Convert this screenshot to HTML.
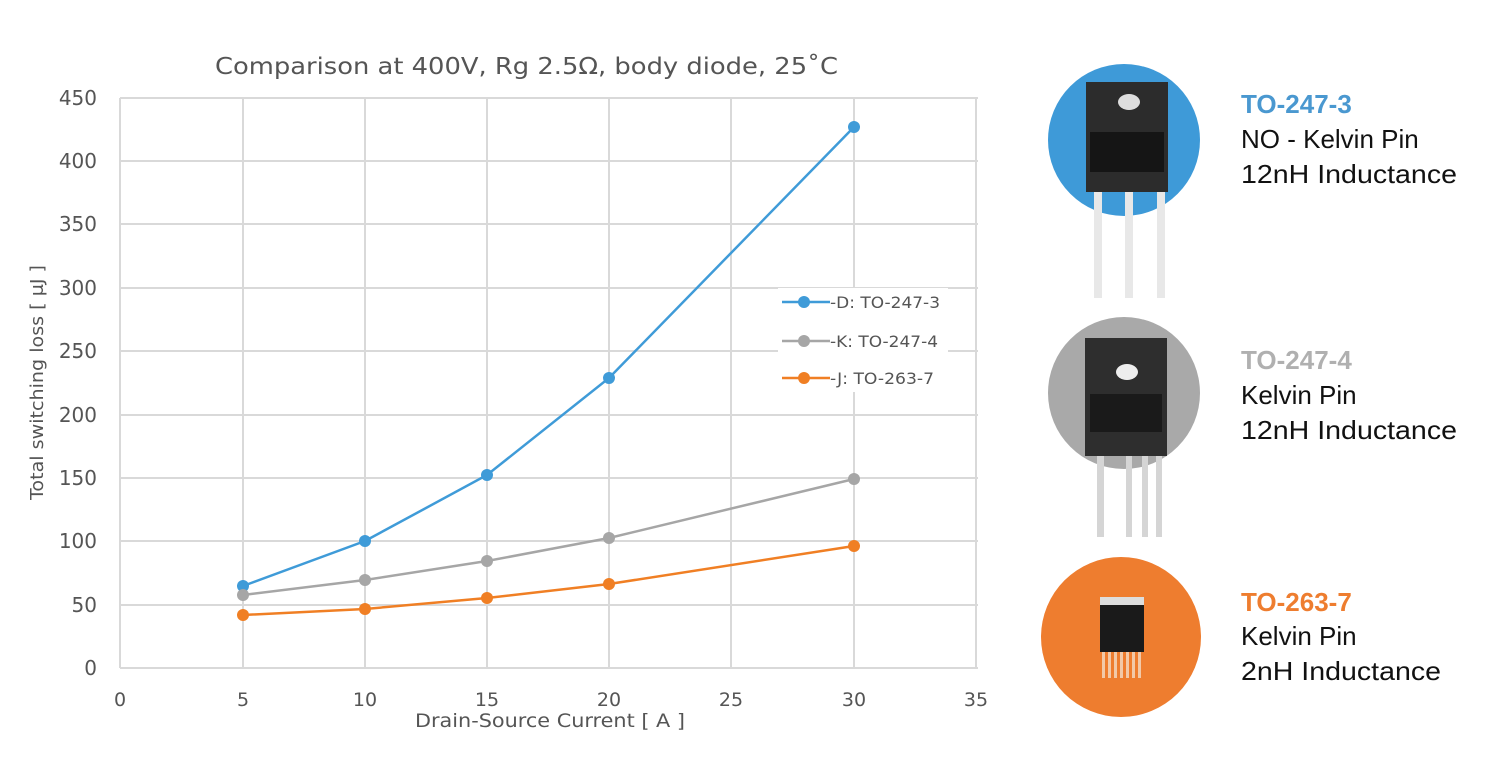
<!DOCTYPE html>
<html><head><meta charset="utf-8"><style>
html,body{margin:0;padding:0;background:#fff;}
svg{display:block;}
</style></head><body>
<svg width="1487" height="764" viewBox="0 0 1487 764" xmlns="http://www.w3.org/2000/svg" font-family="'DejaVu Sans','Liberation Sans',sans-serif">
<rect width="1487" height="764" fill="#fff"/>
<text x="215" y="74" font-size="23" fill="#555" textLength="623" lengthAdjust="spacingAndGlyphs">Comparison at 400V, Rg 2.5Ω, body diode, 25˚C</text>
<g stroke="#d9d9d9" stroke-width="2">
<line x1="120" y1="98" x2="978" y2="98"/><line x1="120" y1="161" x2="978" y2="161"/>
<line x1="120" y1="224" x2="978" y2="224"/><line x1="120" y1="288" x2="978" y2="288"/>
<line x1="120" y1="351" x2="978" y2="351"/><line x1="120" y1="415" x2="978" y2="415"/>
<line x1="120" y1="478" x2="978" y2="478"/><line x1="120" y1="541" x2="978" y2="541"/>
<line x1="120" y1="605" x2="978" y2="605"/><line x1="120" y1="668" x2="978" y2="668"/>
<line x1="120" y1="98" x2="120" y2="668"/><line x1="243" y1="98" x2="243" y2="668"/>
<line x1="365" y1="98" x2="365" y2="668"/><line x1="487" y1="98" x2="487" y2="668"/>
<line x1="609" y1="98" x2="609" y2="668"/><line x1="731" y1="98" x2="731" y2="668"/>
<line x1="854" y1="98" x2="854" y2="668"/><line x1="976" y1="98" x2="976" y2="668"/>
</g>
<g font-size="20" fill="#555" text-anchor="end">
<text x="97" y="105">450</text><text x="97" y="168">400</text><text x="97" y="231">350</text>
<text x="97" y="295">300</text><text x="97" y="358">250</text><text x="97" y="422">200</text>
<text x="97" y="485">150</text><text x="97" y="548">100</text><text x="97" y="612">50</text>
<text x="97" y="675">0</text>
</g>
<g font-size="19" fill="#555" text-anchor="middle">
<text x="120" y="706">0</text><text x="243" y="706">5</text><text x="365" y="706">10</text>
<text x="487" y="706">15</text><text x="609" y="706">20</text><text x="731" y="706">25</text>
<text x="854" y="706">30</text><text x="976" y="706">35</text>
</g>
<text x="415" y="727" font-size="19" fill="#555" textLength="270" lengthAdjust="spacingAndGlyphs">Drain-Source Current [ A ]</text>
<text transform="translate(43,500) rotate(-90)" font-size="18" fill="#555" textLength="235" lengthAdjust="spacingAndGlyphs">Total switching loss [ μJ ]</text>
<g fill="none" stroke-width="2.5">
<polyline stroke="#3f9bd8" points="243,586 365,541 487,475 609,378 854,127"/>
<polyline stroke="#a6a6a6" points="243,595 365,580 487,561 609,538 854,479"/>
<polyline stroke="#f07f24" points="243,615 365,609 487,598 609,584 854,546"/>
</g>
<g fill="#3f9bd8"><circle cx="243" cy="586" r="6"/><circle cx="365" cy="541" r="6"/><circle cx="487" cy="475" r="6"/><circle cx="609" cy="378" r="6"/><circle cx="854" cy="127" r="6"/></g>
<g fill="#a6a6a6"><circle cx="243" cy="595" r="6"/><circle cx="365" cy="580" r="6"/><circle cx="487" cy="561" r="6"/><circle cx="609" cy="538" r="6"/><circle cx="854" cy="479" r="6"/></g>
<g fill="#f07f24"><circle cx="243" cy="615" r="6"/><circle cx="365" cy="609" r="6"/><circle cx="487" cy="598" r="6"/><circle cx="609" cy="584" r="6"/><circle cx="854" cy="546" r="6"/></g>
<rect x="778" y="288" width="170" height="104" fill="#fff"/>
<g stroke-width="2.5">
<line x1="782" y1="302" x2="830" y2="302" stroke="#3f9bd8"/><circle cx="804" cy="302" r="6" fill="#3f9bd8"/>
<line x1="782" y1="341" x2="830" y2="341" stroke="#a6a6a6"/><circle cx="804" cy="341" r="6" fill="#a6a6a6"/>
<line x1="782" y1="378" x2="830" y2="378" stroke="#f07f24"/><circle cx="804" cy="378" r="6" fill="#f07f24"/>
</g>
<g font-size="16" fill="#555">
<text x="830" y="308" textLength="110" lengthAdjust="spacingAndGlyphs">-D: TO-247-3</text><text x="830" y="347" textLength="108" lengthAdjust="spacingAndGlyphs">-K: TO-247-4</text><text x="830" y="384" textLength="104" lengthAdjust="spacingAndGlyphs">-J: TO-263-7</text>
</g>
<!-- device images -->
<circle cx="1124" cy="140" r="76" fill="#3e9ad8"/>
<g fill="#e8e8e8"><rect x="1094" y="180" width="8" height="118"/><rect x="1125" y="180" width="8" height="118"/><rect x="1157" y="180" width="8" height="118"/></g>
<rect x="1086" y="82" width="82" height="110" fill="#2c2c2c"/>
<rect x="1090" y="132" width="74" height="40" fill="#151515"/>
<ellipse cx="1129" cy="102" rx="11" ry="8" fill="#ddd"/>
<circle cx="1124" cy="393" r="76" fill="#a9a9a9"/>
<g fill="#d5d5d5"><rect x="1097" y="455" width="7" height="82"/><rect x="1126" y="455" width="6" height="82"/><rect x="1142" y="455" width="6" height="82"/><rect x="1156" y="455" width="6" height="82"/></g>
<rect x="1085" y="338" width="82" height="118" fill="#2e2e2e"/>
<rect x="1090" y="394" width="72" height="38" fill="#1a1a1a"/>
<ellipse cx="1127" cy="372" rx="11" ry="8" fill="#eee"/>
<circle cx="1121" cy="637" r="80" fill="#ee7d2f"/>
<rect x="1100" y="597" width="44" height="55" fill="#1a1a1a"/>
<rect x="1100" y="597" width="44" height="8" fill="#ddd"/>
<g fill="#f2c9a8"><rect x="1102" y="652" width="3" height="26"/><rect x="1108" y="652" width="3" height="26"/><rect x="1114" y="652" width="3" height="26"/><rect x="1120" y="652" width="3" height="26"/><rect x="1126" y="652" width="3" height="26"/><rect x="1132" y="652" width="3" height="26"/><rect x="1138" y="652" width="3" height="26"/></g>
<g font-family="'Liberation Sans',sans-serif" font-size="26">
<text x="1241" y="113" fill="#4a98d0" font-weight="bold">TO-247-3</text>
<text x="1241" y="148" fill="#111">NO - Kelvin Pin</text>
<text x="1241" y="183" fill="#111" textLength="216" lengthAdjust="spacingAndGlyphs">12nH Inductance</text>
<text x="1241" y="369" fill="#b0b0b0" font-weight="bold">TO-247-4</text>
<text x="1241" y="404" fill="#111">Kelvin Pin</text>
<text x="1241" y="439" fill="#111" textLength="216" lengthAdjust="spacingAndGlyphs">12nH Inductance</text>
<text x="1241" y="611" fill="#ee7d2f" font-weight="bold">TO-263-7</text>
<text x="1241" y="645" fill="#111">Kelvin Pin</text>
<text x="1241" y="680" fill="#111" textLength="200" lengthAdjust="spacingAndGlyphs">2nH Inductance</text>
</g>
</svg>
</body></html>
